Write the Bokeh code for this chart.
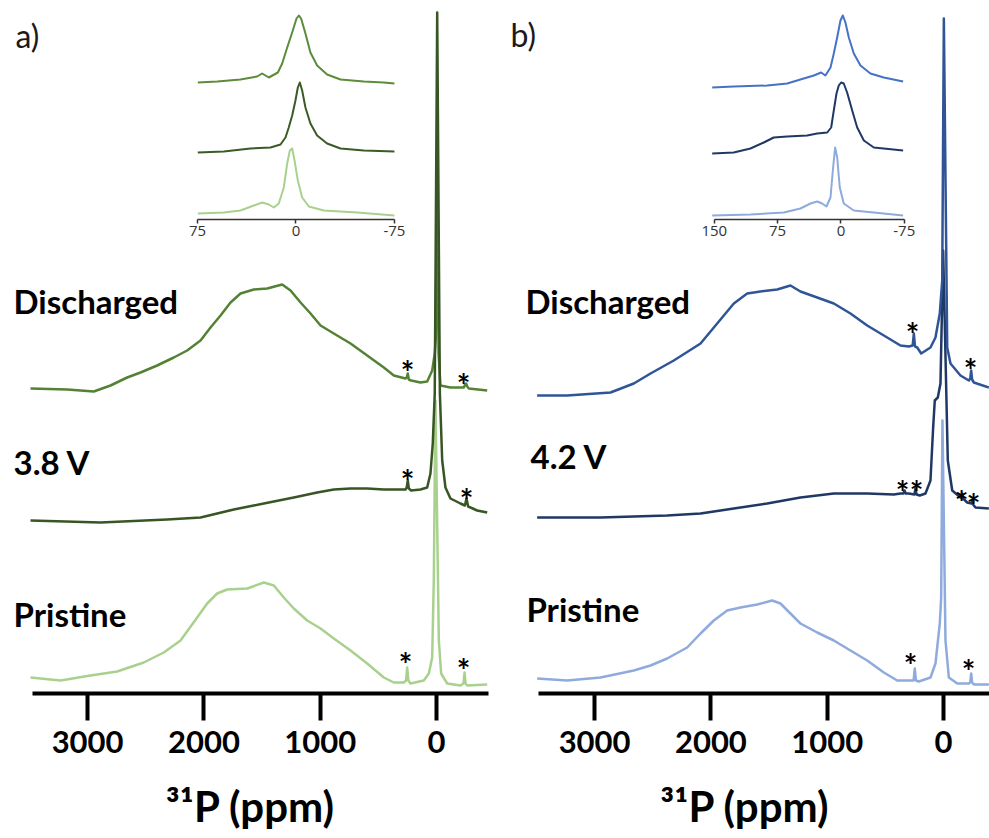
from bokeh.plotting import figure
from bokeh.models import Range1d, LinearAxis, FixedTicker
from bokeh.layouts import row
from bokeh.embed import file_html
from bokeh.resources import INLINE
from bokeh.core.properties import value

# ---------------- data (stacked intensities, arbitrary units) ----------------
# Panel a (main spectra)
a_dis_ppm = [3491, 3175, 2947, 2803, 2660, 2545, 2402, 2259, 2144, 2029, 1943, 1857, 1771, 1685, 1571, 1456, 1327, 1255, 1169, 1083, 997, 883, 739, 596, 453, 367, 267, 256, 247, 238, 218, 138, 80, 37, 15, 6, -6, -18, -34, -120, -235, -246, -255, -264, -278, -436]
a_dis_int = [305, 304, 302, 308, 316, 321, 328, 336, 343, 353, 366, 378, 391, 400, 404, 405, 409, 403, 391, 380, 368, 360, 350, 338, 326, 318, 315, 316, 320, 314, 313, 311, 312, 323, 340, 355, 543, 340, 308, 306, 306, 309, 310, 307, 305, 303]

a_38_ppm = [3491, 2889, 2316, 2029, 1886, 1743, 1571, 1399, 1227, 1026, 883, 739, 596, 453, 310, 267, 256, 247, 238, 218, 138, 80, 52, 32, 15, -6, -29, -49, -77, -120, -206, -244, -258, -272, -350, -436]
a_38_int = [173, 171, 174, 176, 180, 184, 188, 192, 196, 201, 204, 205, 205, 204, 204, 204, 206, 213, 205, 203, 204, 206, 220, 250, 300, 681, 300, 233, 206, 195, 190, 188, 195, 187, 183, 181]

a_pri_ppm = [3491, 3233, 2975, 2746, 2517, 2345, 2201, 2058, 1972, 1886, 1800, 1628, 1485, 1399, 1313, 1227, 1112, 997, 883, 739, 596, 453, 367, 281, 262, 252, 242, 224, 109, 66, 37, 23, 9, -20, -40, -92, -206, -232, -241, -250, -264, -436]
a_pri_int = [16, 13, 18, 22, 31, 41, 53, 76, 90, 100, 104, 105, 111, 108, 96, 85, 73, 65, 55, 43, 30, 16, 11, 11, 13, 26, 13, 10, 13, 20, 36, 115, 293, 53, 20, 10, 8, 10, 21, 10, 8, 9]

# Panel a (inset, -75..75 ppm)
ia_dis_ppm = [74.8, 60, 42.3, 29.6, 25.8, 20.7, 13.8, 10.5, 6.7, 2.9, -0.4, -2.2, -3.9, -7.2, -11, -16.1, -23.7, -33.9, -51.7, -66.9, -75]
ia_dis_int = [611, 612, 614, 617, 620, 616, 621, 630, 646, 661, 675, 678, 675, 660, 641, 628, 619, 614, 612, 611, 610]
ia_38_ppm = [74.8, 55, 34.7, 19.4, 11.8, 8, 5.5, 2.9, 0.4, -1.4, -2.9, -4.7, -7.2, -11, -16.1, -23.7, -33.9, -51.7, -75]
ia_38_int = [541, 542, 545, 546, 549, 556, 566, 578, 593, 606, 611, 603, 586, 570, 558, 550, 545, 543, 542]
ia_pri_ppm = [74.8, 55, 42.3, 32.1, 25.8, 20.7, 16.9, 13.1, 9.3, 6.7, 4.7, 2.9, 1.1, -1.4, -4.7, -9.8, -21.2, -46.6, -75]
ia_pri_int = [480, 481, 483, 488, 491, 489, 486, 490, 506, 530, 543, 545, 533, 513, 496, 487, 483, 481, 478]

# Panel b (main spectra)
b_dis_ppm = [3494, 3236, 2863, 2663, 2519, 2319, 2089, 1946, 1803, 1688, 1574, 1430, 1316, 1230, 1086, 943, 800, 656, 513, 370, 298, 265, 255, 245, 226, 192, 112, 69, 32, 11, -3, -32, -60, -146, -218, -230, -238, -246, -261, -390]
b_dis_int = [298, 298, 301, 310, 320, 333, 350, 370, 390, 400, 402, 404, 408, 402, 396, 390, 380, 368, 358, 348, 347, 348, 360, 347, 346, 340, 346, 356, 380, 413, 675, 346, 330, 318, 313, 315, 323, 314, 311, 306]

b_42_ppm = [3494, 2949, 2376, 2089, 1803, 1516, 1230, 943, 656, 427, 370, 345, 335, 325, 298, 250, 241, 232, 204, 155, 112, 89, 75, 49, 26, 3, -37, -75, -146, -154, -161, -168, -204, -240, -247, -254, -275, -390]
b_42_int = [176, 176, 178, 180, 185, 190, 196, 200, 200, 199, 200, 200, 203, 200, 200, 199, 205, 199, 198, 200, 213, 266, 293, 296, 310, 443, 233, 203, 196, 196, 200, 195, 191, 190, 193, 189, 186, 185]

b_pri_ppm = [3494, 3236, 2949, 2663, 2519, 2376, 2204, 2089, 1975, 1860, 1746, 1602, 1473, 1402, 1316, 1230, 1086, 943, 800, 656, 513, 398, 284, 257, 247, 237, 212, 112, 69, 32, 20, 9, -17, -46, -118, -218, -230, -238, -246, -261, -390]
b_pri_int = [15, 13, 16, 23, 28, 35, 46, 60, 73, 83, 86, 89, 93, 90, 80, 70, 61, 53, 43, 33, 21, 13, 13, 13, 25, 13, 12, 16, 30, 70, 96, 273, 53, 16, 10, 10, 11, 20, 11, 9, 9]

# Panel b (inset, -75..150 ppm)
ib_dis_ppm = [152.5, 127, 87.4, 63.7, 48, 32.2, 23.5, 18.4, 12.4, 8.5, 4.5, 0.6, -2.2, -5.3, -9.3, -15.2, -23.1, -34.9, -50.7, -73.6]
ib_dis_int = [606, 607, 608, 610, 614, 618, 621, 618, 626, 640, 656, 673, 678, 671, 656, 640, 628, 620, 616, 612]
ib_42_ppm = [152.5, 127, 107.2, 91.4, 79.6, 63.7, 40, 28.2, 16.3, 11.6, 8.5, 5.3, 2.6, -0.2, -3.3, -7.3, -13.3, -19.2, -27.1, -38.9, -73.6]
ib_42_int = [540, 541, 545, 551, 556, 557, 558, 560, 561, 566, 583, 600, 608, 611, 610, 601, 583, 566, 553, 546, 543]
ib_pri_ppm = [152.5, 107.2, 67.7, 48, 36.1, 28.2, 22.3, 17.2, 12.4, 9.3, 6.9, 4.5, 1.4, -3.3, -15.2, -38.9, -73.6]
ib_pri_int = [478, 479, 481, 485, 490, 492, 490, 487, 496, 526, 546, 536, 506, 490, 483, 481, 478]

# spinning sideband markers (asterisks)
a_star_ppm = [249, -232, 249, -258, 267, -232]
a_star_int = [333, 320, 224, 205, 41, 35]
b_star_ppm = [267, -232, 353, 232, -155, -258, 284, -215]
b_star_int = [371, 335, 213, 213, 203, 200, 40, 34]

main_ticks = [3000, 2000, 1000, 0]
a_inset_ticks = [75, 0, -75]
b_inset_ticks = [150, 75, 0, -75]

a_labels = ["Discharged", "3.8 V", "Pristine"]
b_labels = ["Discharged", "4.2 V", "Pristine"]

a_colors = ["#548235", "#375623", "#a9d18e"]
a_inset_colors = ["#5b8c3a", "#3a5a26", "#a9d18e"]
b_colors = ["#2f5597", "#1f3864", "#8faadc"]
b_inset_colors = ["#4472c4", "#1f3864", "#8faadc"]

FONT = "Lato"


def panel(width, xr, ir, axis_bounds, inset_ticks, traces, inset_traces, colors, inset_colors,
          order, labels, label_pos, stars, tag, tag_pos):
    p = figure(width=width, height=838, x_range=Range1d(*xr), y_range=Range1d(0, 693),
               output_backend="svg", toolbar_location=None, y_axis_location=None,
               min_border_left=0, min_border_right=0, min_border_top=0, min_border_bottom=145)
    p.grid.visible = False
    p.outline_line_color = None
    p.background_fill_color = "white"
    p.border_fill_color = "white"

    ax = p.xaxis[0]
    ax.ticker = FixedTicker(ticks=main_ticks)
    ax.bounds = axis_bounds
    ax.axis_line_width = 4
    ax.axis_line_color = "black"
    ax.major_tick_line_width = 4
    ax.major_tick_line_color = "black"
    ax.major_tick_out = 27
    ax.major_tick_in = 0
    ax.minor_tick_line_color = None
    ax.major_label_text_font = FONT
    ax.major_label_text_font_style = "bold"
    ax.major_label_text_font_size = "31px"
    ax.major_label_text_color = "black"
    ax.major_label_standoff = 10
    ax.axis_label = "³¹P (ppm)"
    ax.axis_label_text_font = FONT
    ax.axis_label_text_font_style = "bold"
    ax.axis_label_text_font_size = "42px"
    ax.axis_label_text_color = "black"
    ax.axis_label_standoff = 25

    p.extra_x_ranges = {"inset": Range1d(*ir)}
    iax = LinearAxis(x_range_name="inset", fixed_location=474,
                     bounds=(min(inset_ticks), max(inset_ticks)),
                     ticker=FixedTicker(ticks=inset_ticks),
                     major_label_overrides={t: str(t) for t in inset_ticks})
    iax.axis_line_width = 1.5
    iax.axis_line_color = "#333333"
    iax.major_tick_out = 4
    iax.major_tick_in = 0
    iax.major_tick_line_width = 1.5
    iax.major_tick_line_color = "#333333"
    iax.minor_tick_line_color = None
    iax.major_label_text_font = "Open Sans"
    iax.major_label_text_font_size = "15px"
    iax.major_label_text_color = "#333333"
    iax.major_label_standoff = 2
    p.add_layout(iax, "below")

    for i in order:
        xs, ys = traces[i]
        p.line(xs, ys, line_color=colors[i], line_width=2.5, line_join="round")
    for i in (2, 1, 0):
        xs, ys = inset_traces[i]
        p.line(xs, ys, line_color=inset_colors[i], line_width=2, line_join="round",
               x_range_name="inset")

    sx, sy = stars
    p.text(x=sx, y=sy, text=["*"] * len(sx), text_font=value(FONT), text_font_style="bold",
           text_font_size="32px", text_color="black", text_align="center",
           text_baseline="middle", y_offset=12)

    lx, ly = label_pos
    p.text(x=lx, y=ly, text=labels, text_font=value(FONT), text_font_style="bold",
           text_font_size="33px", text_color="black", text_align="left",
           text_baseline="alphabetic")
    p.text(x=[tag_pos[0]], y=[tag_pos[1]], text=[tag], text_font=value(FONT),
           text_font_size="32px", text_color="#1a1a1a", text_align="left",
           text_baseline="alphabetic")
    return p


pa = panel(500, (3749, -550.3), (225.1, -155.8), (-450, 3474), a_inset_ticks,
           [(a_dis_ppm, a_dis_int), (a_38_ppm, a_38_int), (a_pri_ppm, a_pri_int)],
           [(ia_dis_ppm, ia_dis_int), (ia_38_ppm, ia_38_int), (ia_pri_ppm, ia_pri_int)],
           a_colors, a_inset_colors, (2, 0, 1), a_labels,
           ([3637, 3637, 3637], [393, 232, 80]), (a_star_ppm, a_star_int),
           "a)", (3620, 658))

pb = panel(489, (3809, -395.5), (403.2, -175.9), (-450, 3483), b_inset_ticks,
           [(b_dis_ppm, b_dis_int), (b_42_ppm, b_42_int), (b_pri_ppm, b_pri_int)],
           [(ib_dis_ppm, ib_dis_int), (ib_42_ppm, ib_42_int), (ib_pri_ppm, ib_pri_int)],
           b_colors, b_inset_colors, (2, 1, 0), b_labels,
           ([3594, 3551, 3586], [393, 238, 85]), (b_star_ppm, b_star_int),
           "b)", (3723, 659))

layout = row(pa, pb, spacing=0)
open("out.html", "w").write(file_html(layout, INLINE))
